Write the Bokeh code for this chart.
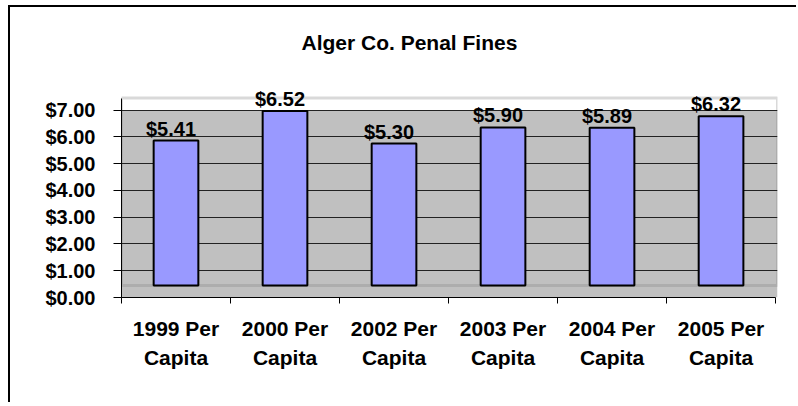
from bokeh.plotting import figure
from bokeh.models import (Range1d, LinearAxis, FixedTicker, NumeralTickFormatter,
                          ColumnDataSource, LabelSet, BoxAnnotation, Title, Grid)
from bokeh.core.properties import value
from bokeh.embed import file_html
from bokeh.resources import INLINE

# ---- data ----
categories = ["1999 Per\nCapita", "2000 Per\nCapita", "2002 Per\nCapita",
              "2003 Per\nCapita", "2004 Per\nCapita", "2005 Per\nCapita"]
per_capita = [5.41, 6.52, 5.30, 5.90, 5.89, 6.32]
y_ticks = [0, 1, 2, 3, 4, 5, 6, 7]
title_text = "Alger Co. Penal Fines"

# ---- style constants ----
FONT = "Liberation Sans"
floor = 0.45          # 3-D floor depth (in axis units)
wall_top = 7.45
y_end = 8.18
n = len(categories)

centers = [i + 0.5 for i in range(n)]
bounds = [i for i in range(n + 1)]

p = figure(width=788, height=397, output_backend="svg", toolbar_location=None,
           x_range=Range1d(0, n * 1.003), y_range=Range1d(0, y_end),
           x_axis_type=None, y_axis_type=None,
           min_border_left=111, min_border_right=21, min_border_top=71, min_border_bottom=107,
           background_fill_color="white", border_fill_color="white",
           outline_line_color=None)
p.styles = {"position": "relative", "left": "10px", "top": "7px",
            "box-shadow": "-2px -2px 0 0 #000"}
p.extra_y_ranges = {"bars": Range1d(-floor, y_end - floor)}

# back wall (gray up to top gridline), wall frame and floor line
p.add_layout(BoxAnnotation(top=max(y_ticks), fill_color="#c0c0c0", fill_alpha=1.0,
                           line_alpha=0, level="image"))
p.add_layout(BoxAnnotation(bottom=floor, top=wall_top, fill_alpha=0, line_color="#808080",
                           line_width=3, level="image"))

# axes
xaxis = LinearAxis(ticker=FixedTicker(ticks=centers, minor_ticks=bounds),
                   major_label_overrides={c: lab for c, lab in zip(centers, categories)},
                   bounds=(0, n))
xaxis.major_tick_out = 0
xaxis.major_tick_in = 0
xaxis.minor_tick_out = 6
xaxis.minor_tick_in = 0
xaxis.minor_tick_line_color = "black"
xaxis.axis_line_color = "black"
xaxis.major_label_standoff = 13
xaxis.major_label_text_font = FONT
xaxis.major_label_text_font_style = "bold"
xaxis.major_label_text_font_size = "21px"
xaxis.major_label_text_line_height = 1.27
xaxis.major_label_text_color = "black"
p.add_layout(xaxis, "below")

yaxis = LinearAxis(ticker=FixedTicker(ticks=y_ticks),
                   formatter=NumeralTickFormatter(format="$0.00"),
                   bounds=(0, wall_top))
yaxis.major_tick_out = 8
yaxis.major_tick_in = 0
yaxis.minor_tick_out = 0
yaxis.minor_tick_in = 0
yaxis.major_tick_line_color = "black"
yaxis.axis_line_color = "black"
yaxis.major_label_standoff = 18
yaxis.major_label_text_font = FONT
yaxis.major_label_text_font_style = "bold"
yaxis.major_label_text_font_size = "20px"
yaxis.major_label_text_color = "black"
p.add_layout(yaxis, "left")

p.add_layout(Grid(dimension=1, ticker=yaxis.ticker, grid_line_color="#222222",
                  grid_line_width=1))

# bars
src = ColumnDataSource(dict(x=centers, top=per_capita,
                            label=["$%.2f" % v for v in per_capita]))
p.vbar(x="x", top="top", bottom=0, width=0.41, source=src, y_range_name="bars",
       fill_color="#9999FF", line_color="black", line_width=2)

p.add_layout(LabelSet(x="x", y="top", text="label", source=src, y_range_name="bars",
                      x_offset=-5, y_offset=5, text_align="center",
                      text_baseline="alphabetic", text_font=value(FONT),
                      text_font_size="20px", text_font_style="bold", text_color="black"))

# title
p.add_layout(Title(text=title_text, align="left", offset=180, standoff=46,
                   vertical_align="top",
                   text_font=FONT, text_font_size="21px", text_font_style="bold",
                   text_color="black"), "above")

open("out.html", "w").write(file_html(p, INLINE))
